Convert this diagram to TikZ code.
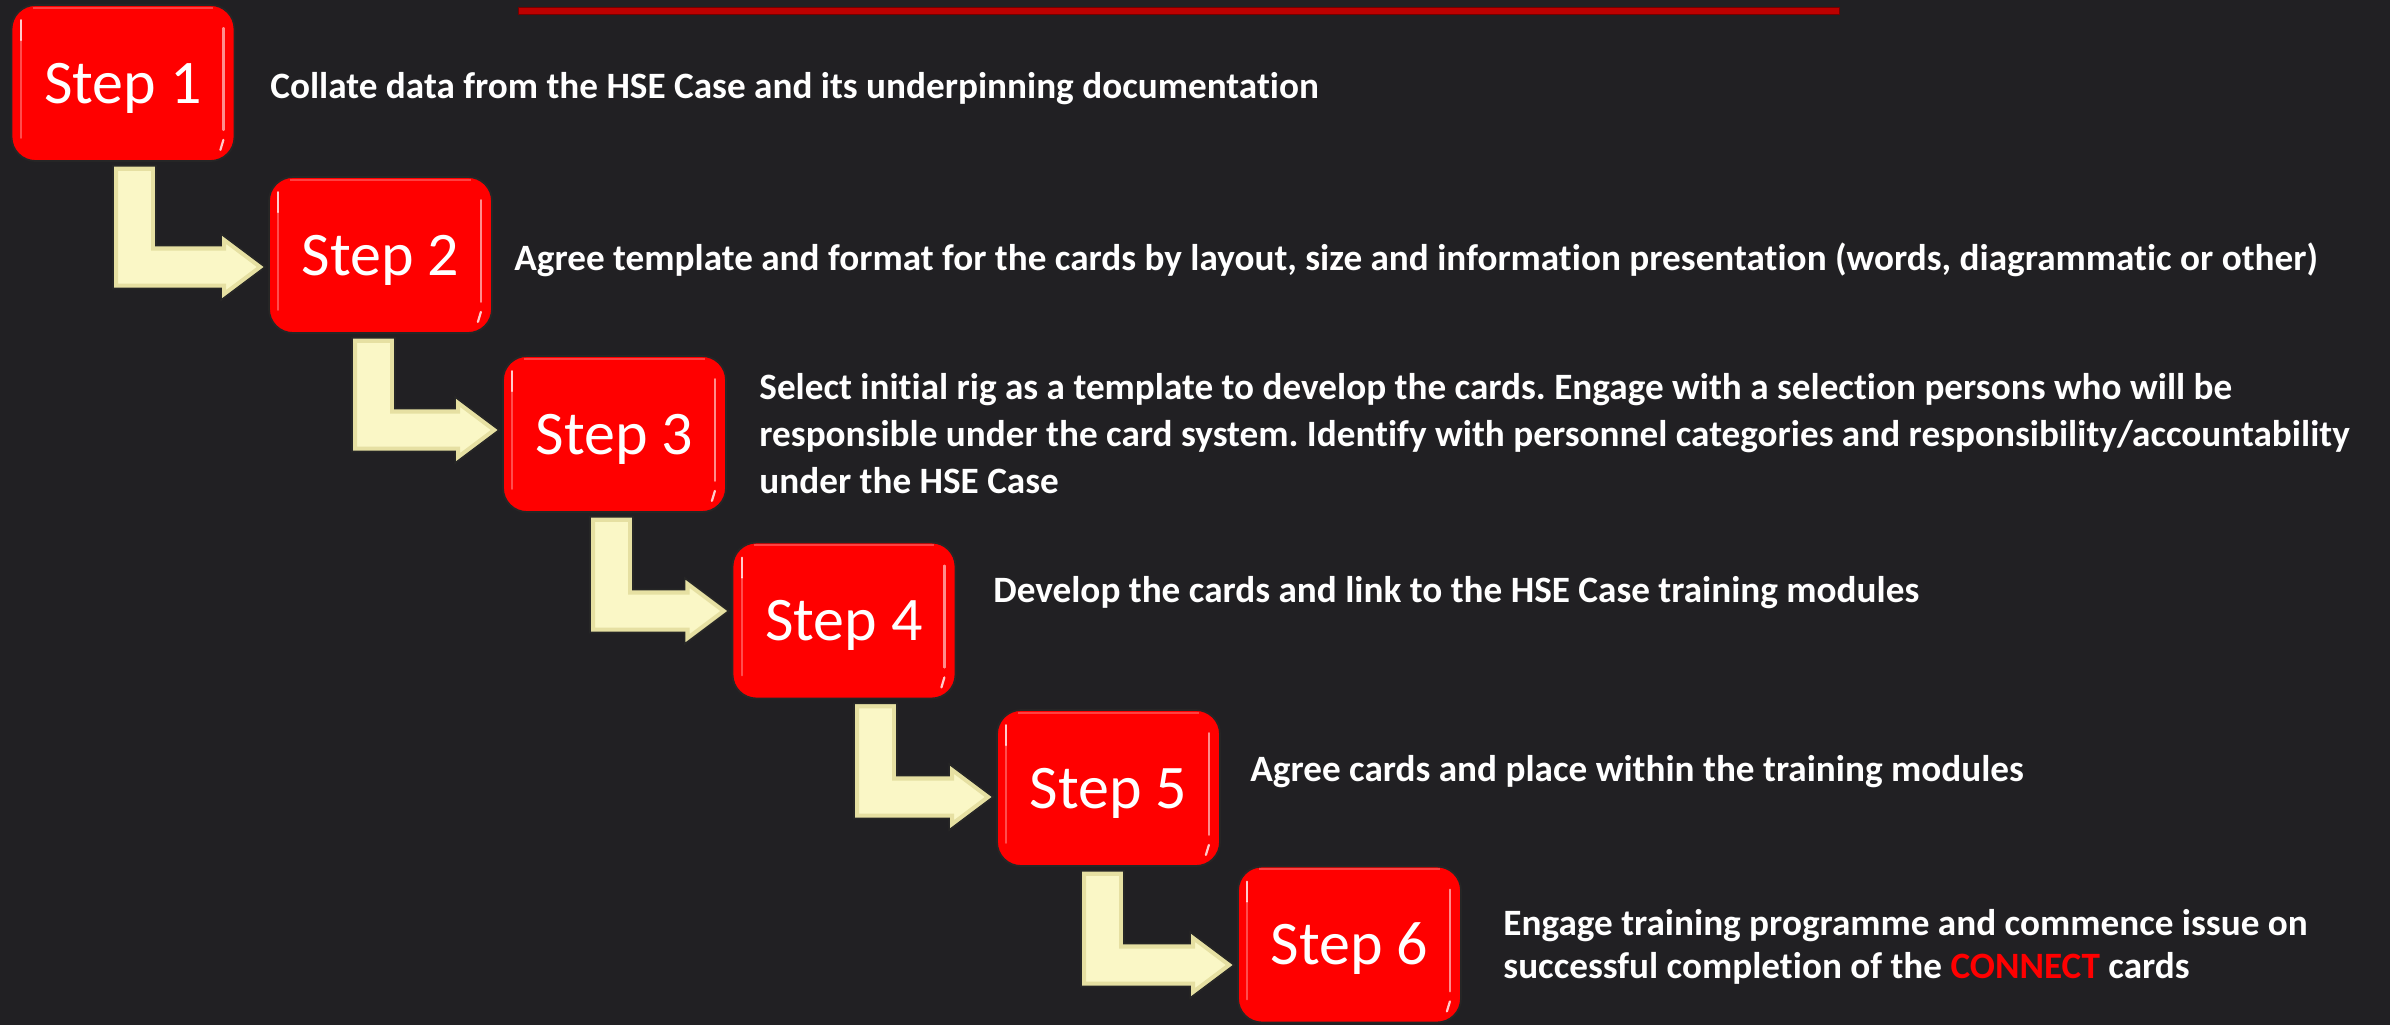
\documentclass[tikz,border=0pt]{standalone}
\usepackage{fontspec}
\setmainfont{Carlito}[Ligatures=NoCommon]
\usetikzlibrary{calc}
\frenchspacing
\definecolor{bg}{HTML}{212023}
\definecolor{stepred}{HTML}{FF0000}
\definecolor{arrowfill}{HTML}{FAF7C6}
\definecolor{arrowedge}{HTML}{E6E0A2}
\definecolor{topline}{HTML}{BC0000}
\newcommand\arrowpath[4]{let \p1=(#1.south), \p2=(#2.west) in
    ({#3*0.5pt},{\y1-2pt}) -- ({(#3+43)*0.5pt},{\y1-2pt})
    -- ({(#3+43)*0.5pt},{-(#4-21.5)*0.5pt})
    -- ({\x2-23.5pt},{-(#4-21.5)*0.5pt})
    -- ({\x2-23.5pt},{-(#4-33)*0.5pt})
    -- ({\x2-1.5pt},{-#4*0.5pt})
    -- ({\x2-23.5pt},{-(#4+33)*0.5pt})
    -- ({\x2-23.5pt},{-(#4+21.5)*0.5pt})
    -- ({#3*0.5pt},{-(#4+21.5)*0.5pt}) -- cycle}
\newcommand\steparrow[4]{% from node, to node, stem left x (px), band centre y (px)
  \begin{scope}
    \clip \arrowpath{#1}{#2}{#3}{#4};
    \fill[arrowfill] \arrowpath{#1}{#2}{#3}{#4};
    \draw[arrowedge, line width=5pt, line join=miter] \arrowpath{#1}{#2}{#3}{#4};
  \end{scope}
  \draw[blockarr] \arrowpath{#1}{#2}{#3}{#4};
}
\newcommand\gloss[1]{%
  \draw[white,opacity=0.25,line width=1.2pt] ([shift={(11pt,-1.8pt)}]#1.north west) -- ([shift={(-11pt,-1.8pt)}]#1.north east);
  \draw[white,opacity=0.8,line width=1.1pt,line cap=round] ([shift={(5pt,-8pt)}]#1.north west) -- ([shift={(5pt,-18pt)}]#1.north west);
  \draw[white,opacity=0.3,line width=1pt,line cap=round] ([shift={(5pt,-18pt)}]#1.north west) -- ([shift={(5pt,12pt)}]#1.south west);
  \draw[white,opacity=0.55,line width=1.1pt,line cap=round] ([shift={(-6pt,-12pt)}]#1.north east) -- ([shift={(-6pt,16pt)}]#1.south east);
  \draw[white,opacity=0.8,line width=1.1pt,line cap=round] ([shift={(-6pt,11pt)}]#1.south east) -- ([shift={(-7.5pt,6pt)}]#1.south east);
}
\begin{document}
\begin{tikzpicture}[x=0.5pt,y=-0.5pt,
  stepbox/.style={draw=black!85, line width=0.9pt, fill=stepred, rounded corners=12pt,
    minimum width=111.5pt, minimum height=78pt, inner sep=0pt, text=white,
    text height=20pt, text depth=0pt, font=\fontsize{31}{36}\selectfont},
  desc/.style={text=white, font=\bfseries\fontsize{18.6}{22}\selectfont, inner sep=0pt, align=left},
  blockarr/.style={draw=black!85, line width=0.8pt, line join=miter}]
\fill[bg] (0,0) rectangle (2390,1025);
\useasboundingbox (0,0) rectangle (2390,1025);
\fill[topline, draw=red!45!black, line width=0.4pt] (518,7) rectangle (1839,14);

\node[stepbox] (s1) at (123,83) {Step 1};
\node[stepbox] (s2) at (380.5,255) {Step 2};
\node[stepbox] (s3) at (614.5,434) {Step 3};
\node[stepbox] (s4) at (844,620.5) {Step 4};
\node[stepbox] (s5) at (1108.5,788) {Step 5};
\node[stepbox] (s6) at (1349.5,944.5) {Step 6};
\gloss{s1}\gloss{s2}\gloss{s3}\gloss{s4}\gloss{s5}\gloss{s6}

\steparrow{s1}{s2}{113}{267}
\steparrow{s2}{s3}{352}{430}
\steparrow{s3}{s4}{590}{611}
\steparrow{s4}{s5}{854}{797}
\steparrow{s5}{s6}{1081}{965}

\node[desc, anchor=base west] (d1) at (270,98) {Collate data from the HSE Case and its underpinning documentation};
\node[desc, anchor=base west] (d2) at (514,270) {Agree template and format for the cards by layout, size and information presentation (words, diagrammatic or other)};
\node[desc, anchor=west, font=\bfseries\fontsize{18.6}{23.5}\selectfont] (d3) at (759,434) {Select initial rig as a template to develop the cards. Engage with a selection persons who will be\\responsible under the card system. Identify with personnel categories and responsibility/accountability\\under the HSE Case};
\node[desc, anchor=base west] (d4) at (993,602) {Develop the cards and link to the HSE Case training modules};
\node[desc, anchor=base west] (d5) at (1250,781) {Agree cards and place within the training modules};
\node[desc, anchor=west, font=\bfseries\fontsize{18.6}{21.5}\selectfont] (d6) at (1503,947) {Engage training programme and commence issue on\\successful completion of the \textcolor{stepred}{CONNECT} cards};
\end{tikzpicture}
\end{document}
